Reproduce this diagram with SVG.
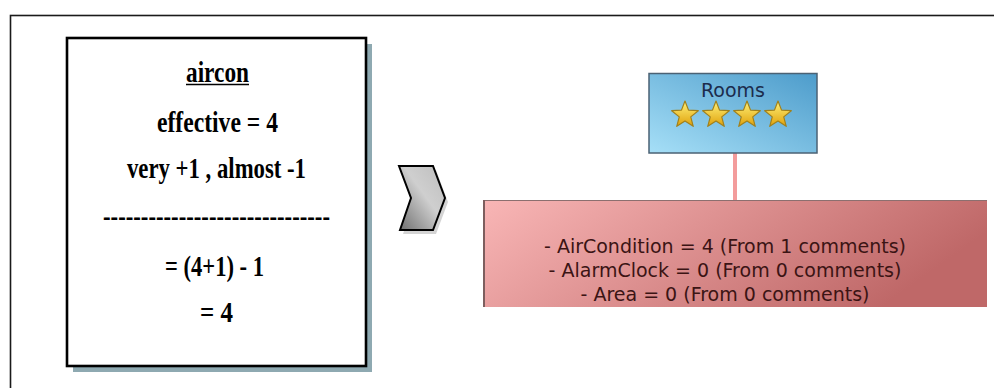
<svg xmlns="http://www.w3.org/2000/svg" width="994" height="388" viewBox="0 0 994 388">
  <defs>
    <linearGradient id="chevFill" x1="0" y1="1" x2="1" y2="0">
      <stop offset="0" stop-color="#6e6e6e"/>
      <stop offset="0.55" stop-color="#cfcfcf"/>
      <stop offset="1" stop-color="#bdbdbd"/>
    </linearGradient>
    <linearGradient id="roomsFill" x1="0" y1="1" x2="1" y2="0">
      <stop offset="0" stop-color="#a6dff7"/>
      <stop offset="1" stop-color="#4d9ccb"/>
    </linearGradient>
    <linearGradient id="listFill" x1="0" y1="0" x2="1" y2="0.3">
      <stop offset="0" stop-color="#f9b6b6"/>
      <stop offset="1" stop-color="#bf6868"/>
    </linearGradient>
    <linearGradient id="starFill" x1="0" y1="0" x2="0" y2="1">
      <stop offset="0" stop-color="#fff27a"/>
      <stop offset="1" stop-color="#e0a10a"/>
    </linearGradient>
    <!-- five-point star centred on the origin, outer radius 14 -->
    <path id="star" d="M0,-14 L3.54,-4.88 L13.31,-4.33 L5.74,1.86 L8.23,11.33 L0,6.03 L-8.23,11.33 L-5.74,1.86 L-13.31,-4.33 L-3.54,-4.88 Z"/>
  </defs>
  <style>
    .frame { fill: none; stroke: #1a1a1a; stroke-width: 1.6; }
    .calc { font-family: "Liberation Serif", "Times New Roman", serif; font-size: 30px; font-weight: bold; fill: #000; }
    .ui { font-family: "DejaVu Sans", Verdana, sans-serif; font-size: 19px; }
    .star { fill: url(#starFill); stroke: #a0801c; stroke-width: 1.2; stroke-linejoin: round; }
  </style>

  <rect width="994" height="388" fill="#ffffff"/>

  <!-- outer frame, running off the right and bottom edges -->
  <rect class="frame" x="10.5" y="15.5" width="1000" height="400"/>

  <!-- calculation card -->
  <g id="calc-card">
    <rect x="73" y="44" width="299" height="328" fill="#8ea9b1"/>
    <rect x="67" y="38" width="299" height="328" fill="#ffffff" stroke="#000" stroke-width="2.6"/>
    <text class="calc" x="217.5" y="81.5" text-anchor="middle" textLength="63" lengthAdjust="spacingAndGlyphs">aircon</text>
    <line x1="186" y1="84.5" x2="249" y2="84.5" stroke="#000" stroke-width="1.5"/>
    <text class="calc" x="217.5" y="131.5" text-anchor="middle" textLength="121" lengthAdjust="spacingAndGlyphs">effective = 4</text>
    <text class="calc" x="216.5" y="178" text-anchor="middle" textLength="179" lengthAdjust="spacingAndGlyphs">very +1 , almost -1</text>
    <text class="calc" x="216.5" y="226" text-anchor="middle" textLength="227" lengthAdjust="spacingAndGlyphs">------------------------------</text>
    <text class="calc" x="214.5" y="276" text-anchor="middle" textLength="99" lengthAdjust="spacingAndGlyphs">= (4+1) - 1</text>
    <text class="calc" x="216.5" y="321.5" text-anchor="middle" textLength="33" lengthAdjust="spacingAndGlyphs">= 4</text>
  </g>

  <!-- chevron arrow -->
  <g id="chevron">
    <polygon points="402,170 436,170 448,202 436,234 403,234 414,202" fill="#d4d4d4"/>
    <polygon points="399,166 433,166 445,198 433,230 400,230 411,198" fill="url(#chevFill)" stroke="#000" stroke-width="2" stroke-linejoin="miter"/>
  </g>

  <!-- connectors -->
  <g id="connectors">
    <line x1="735" y1="153" x2="735" y2="201" stroke="#f39c9c" stroke-width="4"/>
  </g>

  <!-- Rooms node -->
  <g id="rooms">
    <rect x="649" y="73.5" width="168" height="79.5" fill="url(#roomsFill)" stroke="#4b6274" stroke-width="1.5"/>
    <text class="ui" x="733" y="96.5" text-anchor="middle" fill="#1c2c4c">Rooms</text>
    <use href="#star" class="star" x="685" y="115"/>
    <use href="#star" class="star" x="716" y="115"/>
    <use href="#star" class="star" x="747" y="115"/>
    <use href="#star" class="star" x="778" y="115"/>
  </g>

  <!-- attribute list node, cut at the bottom -->
  <g id="attributes">
    <rect x="483" y="200" width="504" height="107" fill="url(#listFill)"/>
    <line x1="483" y1="200.5" x2="987" y2="200.5" stroke="#8c6f6f" stroke-width="1.2"/>
    <line x1="484" y1="200" x2="484" y2="307" stroke="#7d5e5e" stroke-width="2"/>
    <text class="ui" x="725" y="253" text-anchor="middle" fill="#3b1414">- AirCondition = 4 (From 1 comments)</text>
    <text class="ui" x="725" y="277" text-anchor="middle" fill="#3b1414">- AlarmClock = 0 (From 0 comments)</text>
    <text class="ui" x="725" y="301" text-anchor="middle" fill="#3b1414">- Area = 0 (From 0 comments)</text>
  </g>
</svg>
